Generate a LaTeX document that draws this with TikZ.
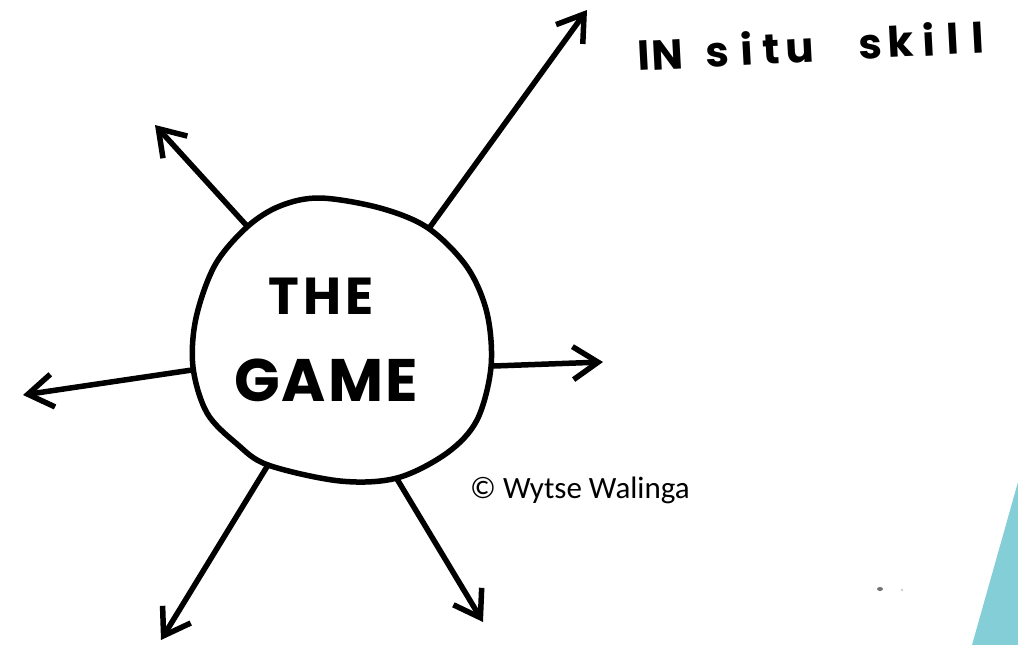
\documentclass[tikz,border=0pt]{standalone}
\usepackage{fontspec}
\setmainfont{Carlito}
\newfontfamily\handfont{Poppins}
\usetikzlibrary{arrows.meta}
\definecolor{tealfill}{HTML}{84CFD7}
\begin{document}
\begin{tikzpicture}[x=1pt,y=-1pt,
  spoke/.style={line width=5.5pt, line cap=round,
    -{Straight Barb[length=25pt,width=33pt,line width=5.5pt]}},
  blob/.style={line width=5.5pt, line join=round},
  bigword/.style={inner sep=0pt, anchor=center},
]
\useasboundingbox (0,0) rectangle (1018,645);
% circle of the game
\draw[blob] plot[smooth cycle, tension=0.55] coordinates {
  (320,198) (380,208) (428,228) (467,267) (487,313) (491,367) (477,420)
  (447,453) (397,478) (340,481) (268,465) (237,444) (207,413) (193,367)
  (196,318) (215,265) (247,227) (280,206)};
% junctions on the circle
\coordinate (jTR) at (430,227);
\coordinate (jTL) at (247,226);
\coordinate (jL)  at (192,370);
\coordinate (jR)  at (494,366);
\coordinate (jBL) at (268,465);
\coordinate (jBR) at (397,479);
% arrow tips
\coordinate (tTR) at (587,10);
\coordinate (tTL) at (155,125);
\coordinate (tL)  at (23,395);
\coordinate (tR)  at (603,362);
\coordinate (tBL) at (161,640);
\coordinate (tBR) at (483,622);
\draw[spoke] (jTR) -- (tTR);
\draw[spoke] (jTL) -- (tTL);
\draw[spoke] (jL) -- (tL);
\draw[spoke] (jR) -- (tR);
\draw[spoke] (jBL) -- (tBL);
\draw[spoke] (jBR) -- (tBR);
% texts
\node[bigword] (the) at (321,296) {\fontsize{52}{52}\handfont\bfseries T\hspace{4pt}H\hspace{4pt}E};
\node[bigword] (game) at (326,380) {\fontsize{60}{60}\handfont\bfseries G\hspace{2pt}A\hspace{2pt}M\hspace{2pt}E};
\node[inner sep=0pt, anchor=base west, rotate=3] (insitu) at (638,71)
  {\fontsize{42}{42}\handfont\bfseries I\hspace{2pt}N\hspace{22pt}s\hspace{12pt}i\hspace{10pt}t\hspace{6pt}u\hspace{44pt}s\hspace{6pt}k\hspace{9pt}i\hspace{12pt}l\hspace{12pt}l};
\node[inner sep=0pt, anchor=base west] (copy) at (470,498)
  {\fontsize{31}{31}\selectfont © Wytse Walinga};
% decoration
\fill[tealfill] (972,645) -- (1018,482) -- (1018,645) -- cycle;
\fill[black!55] (880,589) ellipse (3pt and 2pt);
\fill[black!20] (902,590) circle (1.3pt);
\end{tikzpicture}
\end{document}
